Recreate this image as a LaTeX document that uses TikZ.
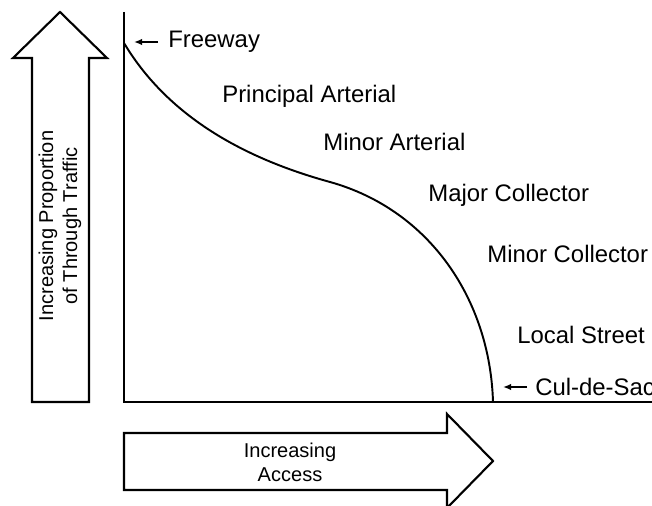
\documentclass[tikz,border=0pt]{standalone}
\usepackage{fontspec}
\setmainfont{Liberation Sans}
\usetikzlibrary{arrows.meta}
\begin{document}
\begin{tikzpicture}[x=0.02cm,y=-0.02cm,>={Latex[length=0.16cm,width=0.13cm]},
    etiqueta/.style={anchor=west,inner sep=0pt,font=\fontsize{13.6}{16}\selectfont},
    texto/.style={align=center,inner sep=0pt,font=\fontsize{11.4}{13.7}\selectfont},
    flechagorda/.style={draw,line width=1.2pt,line join=miter,fill=white},
    eje/.style={line width=1.7pt},
    flechita/.style={->,line width=1pt}]
    \useasboundingbox (0,0) rectangle (652,506);

    % Flechas gruesas
    \draw[flechagorda] (32,402) -- (32,58) -- (13,58) -- (60,12) -- (107,58) -- (89,58) -- (89,402) -- cycle;
    \draw[flechagorda] (124,433) -- (447,433) -- (447,414) -- (493,461) -- (447,508) -- (447,490) -- (124,490) -- cycle;
    \node[texto,rotate=90] (proporcion) at (60,226) {Increasing Proportion\\of Through Traffic};
    \node[texto] (acceso) at (290,462) {Increasing\\Access};

    % Ejes
    \coordinate (origen) at (124,402);
    \draw[eje] (124,12) -- (origen) -- (655,402);

    % Curva
    \coordinate (inicio) at (124,43);
    \coordinate (fin) at (493,402);
    \draw[line width=1.1pt] (inicio) .. controls (170,120) and (250,160) .. (330,182)
        .. controls (430,210) and (490,300) .. (fin);

    % Etiquetas
    \node[etiqueta] (freeway) at (168,42) {Freeway};
    \node[etiqueta] (principal) at (222,96) {Principal Arterial};
    \node[etiqueta] (menor) at (323,142) {Minor Arterial};
    \node[etiqueta] (colmayor) at (428,195) {Major Collector};
    \node[etiqueta] (colmenor) at (487,254) {Minor Collector};
    \node[etiqueta] (local) at (517,335) {Local Street};
    \node[etiqueta] (culdesac) at (535,387) {Cul-de-Sac};

    % Flechitas
    \coordinate (pfreeway) at (134,42);
    \coordinate (pculdesac) at (503,387);
    \draw[flechita] ([xshift=-0.2cm]freeway.west) -- (pfreeway);
    \draw[flechita] ([xshift=-0.16cm]culdesac.west) -- (pculdesac);
\end{tikzpicture}
\end{document}
